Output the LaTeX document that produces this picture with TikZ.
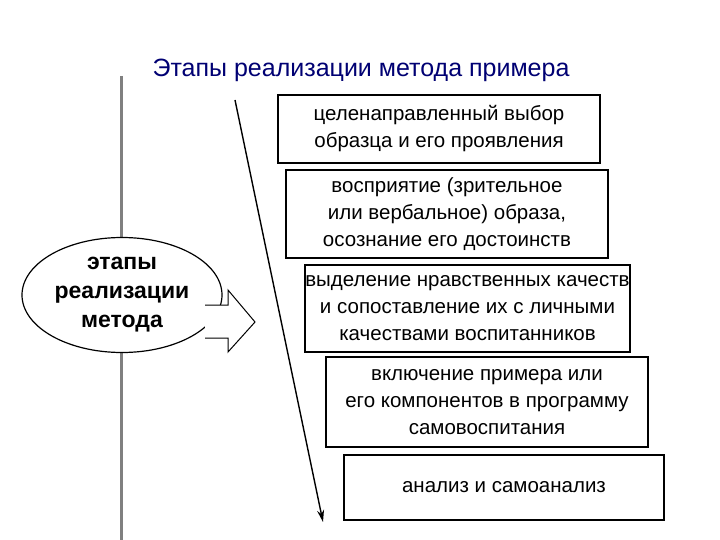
\documentclass[tikz,border=0pt]{standalone}
\usepackage{fontspec}
\setmainfont{Liberation Sans}
\usetikzlibrary{shapes.geometric,arrows.meta}
\begin{document}
\begin{tikzpicture}[x=1pt,y=-1pt,
  stage/.style={draw,line width=1.5pt,inner sep=0pt,align=center,font=\fontsize{20.5}{27}\selectfont},
]
\useasboundingbox (0,0) rectangle (720,540);
\fill[white] (0,0) rectangle (720,540);
\node[text=blue!45!black,font=\fontsize{25}{28}\selectfont] (title) at (361,70) {Этапы реализации метода примера};
\coordinate (vt) at (121,76); \coordinate (vb) at (121,540);
\draw[gray,line width=3pt] (vt) -- (vb);
\node[draw,ellipse,fill=white,line width=1.2pt,minimum width=200,minimum height=115,inner sep=0pt,align=center,font=\bfseries\fontsize{23}{29}\selectfont] (el) at (122,295) {этапы\\реализации\\метода};
\draw[line width=1pt,fill=white] (205,305) -- (228,305) -- (228,290) -- (255,322) -- (228,352) -- (228,338) -- (205,338);
\coordinate (as) at (235,100); \coordinate (ae) at (323,522);
\draw[line width=1.4pt,-{Stealth[length=12pt,width=7pt]}] (as) -- (ae);
\node[stage,minimum width=322,minimum height=68] (b1) at (439,129) {целенаправленный выбор\\образца и его проявления};
\node[stage,minimum width=322,minimum height=88] (b2) at (447,214) {восприятие (зрительное\\или вербальное) образа,\\осознание его достоинств};
\node[stage,minimum width=325,minimum height=87] (b3) at (467.5,308.5) {выделение нравственных качеств\\и сопоставление их с личными\\качествами воспитанников};
\node[stage,minimum width=322,minimum height=90] (b4) at (487,402) {включение примера или\\его компонентов в программу\\самовоспитания};
\node[stage,minimum width=320,minimum height=65] (b5) at (504,487.5) {анализ и самоанализ};
\end{tikzpicture}
\end{document}
